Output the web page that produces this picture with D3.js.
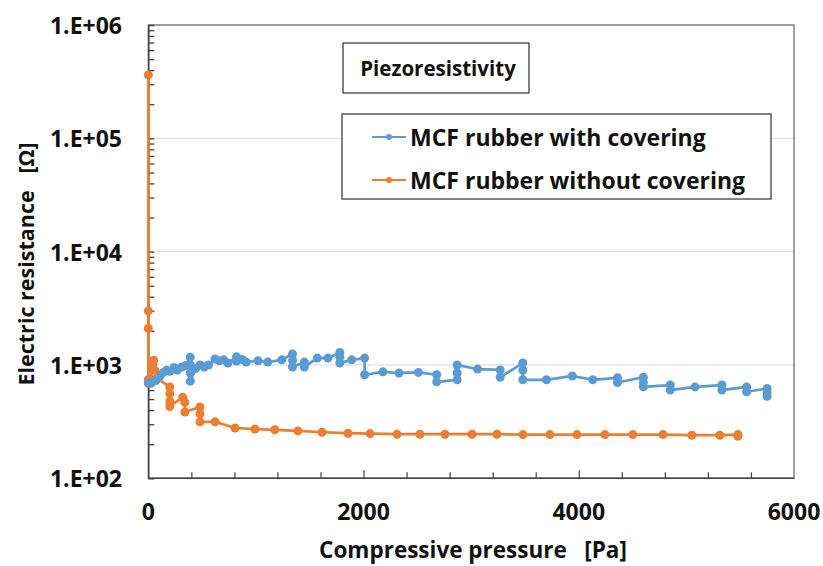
<!DOCTYPE html>
<html>
<head>
<meta charset="utf-8">
<script src="https://cdn.jsdelivr.net/npm/d3@7"></script>
<style>
  html, body { margin: 0; padding: 0; background: #fff; }
  svg { display: block; font-family: "Open Sans", "DejaVu Sans", sans-serif; font-weight: bold; }
</style>
</head>
<body>
<svg id="chart" width="823" height="566"></svg>
<script>
// Pressure [Pa] and resistance [Ω] for the covered rubber sample
const coveredPressure = [0, 30, 70, 110, 140, 170, 200, 240, 270, 310, 350, 390, 390, 390, 390, 440, 480, 520, 560, 620, 660, 700, 740, 820, 820, 870, 910, 1020, 1110, 1240, 1340, 1340, 1340, 1450, 1450, 1570, 1670, 1780, 1780, 1780, 1890, 2010, 2010, 2180, 2330, 2510, 2680, 2680, 2870, 2870, 2870, 3060, 3270, 3270, 3480, 3480, 3480, 3700, 3940, 4130, 4360, 4360, 4600, 4600, 4600, 4850, 4850, 5080, 5330, 5330, 5560, 5560, 5750, 5750, 5750];
const coveredResistance = [690, 700, 730, 800, 860, 900, 880, 950, 900, 960, 990, 1170, 1000, 850, 720, 930, 1000, 960, 1000, 1130, 1090, 1110, 1040, 1180, 1080, 1120, 1060, 1090, 1060, 1110, 1250, 1100, 960, 1060, 960, 1150, 1150, 1290, 1170, 1040, 1110, 1150, 820, 870, 850, 860, 820, 710, 740, 850, 1000, 920, 905, 780, 1040, 900, 740, 740, 800, 740, 770, 700, 780, 700, 640, 665, 600, 640, 665, 600, 640, 580, 620, 570, 530];

// Pressure [Pa] and resistance [Ω] for the uncovered rubber sample
const uncoveredPressure = [0, 0, 0, 0, 20, 40, 50, 60, 80, 200, 200, 200, 200, 320, 340, 340, 480, 480, 480, 620, 806, 991, 1176, 1391, 1614, 1856, 2060, 2311, 2524, 2757, 3008, 3240, 3481, 3732, 3983, 4243, 4503, 4782, 5051, 5311, 5479, 5479];
const uncoveredResistance = [363000, 3000, 2100, 740, 690, 1000, 1100, 900, 760, 640, 560, 480, 430, 520, 470, 385, 426, 370, 315, 315, 278, 272, 268, 262, 255, 250, 248, 245, 245, 245, 245, 245, 243, 243, 243, 243, 243, 243, 240, 240, 243, 235];

const seriesNames = ["MCF rubber with covering", "MCF rubber without covering"];
const seriesColors = ["#5B9BD5", "#ED7D31"];
const xTickValues = [0, 2000, 4000, 6000];
const yTickValues = [1e2, 1e3, 1e4, 1e5, 1e6];
const yTickLabels = ["1.E+02", "1.E+03", "1.E+04", "1.E+05", "1.E+06"];

const svg = d3.select("#chart");
const plotLeft = 148.3, plotRight = 794, plotTop = 25, plotBottom = 478.3;
const ink = "#111";

const x = d3.scaleLinear().domain([0, 6000]).range([plotLeft, plotRight]);
const y = d3.scaleLog().domain([1e2, 1e6]).range([plotBottom, plotTop]);

// Horizontal gridlines at each decade
svg.append("g").selectAll("line")
  .data([1e3, 1e4, 1e5])
  .join("line")
  .attr("x1", plotLeft).attr("x2", plotRight)
  .attr("y1", d => y(d)).attr("y2", d => y(d))
  .attr("stroke", "#d9d9d9").attr("stroke-width", 1);

// Plot frame
svg.append("rect")
  .attr("x", plotLeft).attr("y", plotTop)
  .attr("width", plotRight - plotLeft).attr("height", plotBottom - plotTop)
  .attr("fill", "none").attr("stroke", "#6f6f6f").attr("stroke-width", 1.3);

// Y axis with inward ticks at every 1..9 step of each decade
const yTicks = [];
for (let e = 2; e < 6; e++) for (let m = 1; m <= 9; m++) if (!(e === 2 && m === 1)) yTicks.push(m * Math.pow(10, e));
const yg = svg.append("g").attr("transform", `translate(${plotLeft},0)`)
  .call(d3.axisRight(y).tickValues(yTicks).tickSize(6).tickFormat(""));
yg.select(".domain").attr("stroke", "#404040").attr("stroke-width", 1.5);
yg.selectAll(".tick line").attr("stroke", "#404040").attr("stroke-width", 1.3);

// Y tick labels
svg.append("g").selectAll("text")
  .data(yTickValues)
  .join("text")
  .attr("x", 122).attr("y", d => y(d))
  .attr("text-anchor", "end").attr("dominant-baseline", "central")
  .attr("font-size", 23).attr("fill", ink)
  .text((d, i) => yTickLabels[i]);

// X axis with upward ticks (minor every 400, major every 2000)
const minorX = d3.range(400, 6000, 400).filter(v => v % 2000 !== 0);
const xgMinor = svg.append("g").attr("transform", `translate(0,${plotBottom})`)
  .call(d3.axisTop(x).tickValues(minorX).tickSize(6).tickFormat(""));
xgMinor.select(".domain").remove();
xgMinor.selectAll(".tick line").attr("stroke", "#404040").attr("stroke-width", 1.2);
const xgMajor = svg.append("g").attr("transform", `translate(0,${plotBottom})`)
  .call(d3.axisTop(x).tickValues([2000, 4000]).tickSize(8).tickFormat(""));
xgMajor.select(".domain").remove();
xgMajor.selectAll(".tick line").attr("stroke", "#404040").attr("stroke-width", 1.2);
svg.append("line")
  .attr("x1", plotLeft).attr("x2", plotRight).attr("y1", plotBottom).attr("y2", plotBottom)
  .attr("stroke", "#404040").attr("stroke-width", 1.5);

svg.append("g").selectAll("text")
  .data(xTickValues)
  .join("text")
  .attr("x", d => x(d)).attr("y", 511)
  .attr("text-anchor", "middle").attr("dominant-baseline", "central")
  .attr("font-size", 23).attr("fill", ink)
  .text(d => d);

// Axis titles
svg.append("text")
  .attr("x", 473).attr("y", 558)
  .attr("text-anchor", "middle")
  .attr("font-size", 22.5).attr("fill", ink)
  .attr("xml:space", "preserve")
  .text("Compressive pressure   [Pa]");

svg.append("text")
  .attr("transform", "translate(34,264) rotate(-90)")
  .attr("text-anchor", "middle")
  .attr("font-size", 21.5).attr("fill", ink)
  .attr("xml:space", "preserve")
  .text("Electric resistance   [Ω]");

// Data series
const series = [
  { px: coveredPressure, ry: coveredResistance },
  { px: uncoveredPressure, ry: uncoveredResistance }
];
const line = d3.line().x(d => x(d[0])).y(d => y(d[1]));

// Uncovered series drawn first so the covered series sits on top where they cross
[1, 0].forEach(i => {
  const pts = series[i].px.map((p, k) => [p, series[i].ry[k]]);
  const g = svg.append("g");
  g.append("path")
    .attr("d", line(pts))
    .attr("fill", "none")
    .attr("stroke", seriesColors[i]).attr("stroke-width", 2.7)
    .attr("stroke-linejoin", "round");
  g.selectAll("circle")
    .data(pts)
    .join("circle")
    .attr("cx", d => x(d[0])).attr("cy", d => y(d[1]))
    .attr("r", 4.5)
    .attr("fill", seriesColors[i]);
});

// Title box
svg.append("rect")
  .attr("x", 343).attr("y", 43).attr("width", 186).attr("height", 50)
  .attr("fill", "#fff").attr("stroke", "#404040").attr("stroke-width", 1.3);
svg.append("text")
  .attr("x", 438).attr("y", 68)
  .attr("text-anchor", "middle").attr("dominant-baseline", "central")
  .attr("font-size", 20.5).attr("fill", ink)
  .text("Piezoresistivity");

// Legend box
svg.append("rect")
  .attr("x", 342).attr("y", 114).attr("width", 429).attr("height", 85)
  .attr("fill", "#fff").attr("stroke", "#404040").attr("stroke-width", 1.3);
const legendY = [137, 180];
seriesNames.forEach((name, i) => {
  const g = svg.append("g");
  g.append("line")
    .attr("x1", 372).attr("x2", 406)
    .attr("y1", legendY[i]).attr("y2", legendY[i])
    .attr("stroke", seriesColors[i]).attr("stroke-width", 2);
  g.append("circle")
    .attr("cx", 389).attr("cy", legendY[i]).attr("r", 3)
    .attr("fill", seriesColors[i]);
  g.append("text")
    .attr("x", 410).attr("y", legendY[i])
    .attr("dominant-baseline", "central")
    .attr("font-size", 23).attr("fill", ink)
    .text(name);
});
</script>
</body>
</html>
